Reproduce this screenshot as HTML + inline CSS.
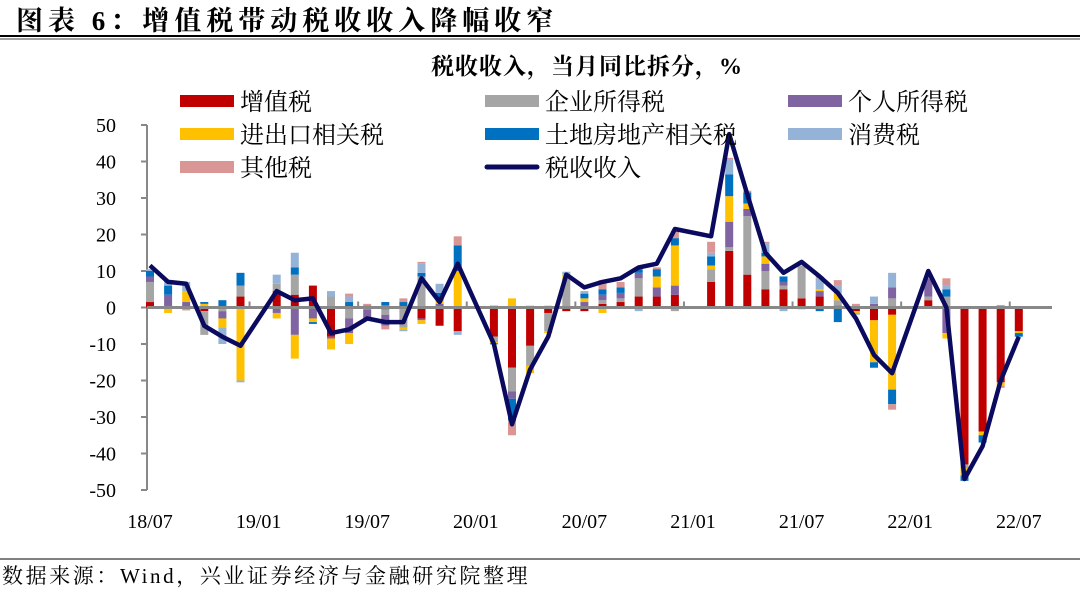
<!DOCTYPE html>
<html><head><meta charset="utf-8"><style>
body{margin:0;background:#fff;width:1080px;height:592px;overflow:hidden;font-family:"Liberation Serif","Noto Serif CJK SC",serif;}
svg text{font-family:"Liberation Serif","Noto Serif CJK SC",serif;}
</style></head><body>
<svg id="chart" width="1080" height="592">
<text x="16" y="30" font-size="27" font-weight="bold" letter-spacing="5" fill="#000">图表 6：增值税带动税收收入降幅收窄</text>
<line x1="0" y1="36" x2="1080" y2="36" stroke="#000" stroke-width="2"/>
<line x1="0" y1="39" x2="1080" y2="39" stroke="#000" stroke-width="0.8"/>
<text x="587" y="74" font-size="23" font-weight="bold" letter-spacing="1" text-anchor="middle">税收收入，当月同比拆分，%</text>
<line x1="0" y1="559" x2="1080" y2="559" stroke="#000" stroke-width="1"/>
<text x="2" y="583" font-size="21" letter-spacing="2.6">数据来源：Wind，兴业证券经济与金融研究院整理</text>
<g id="plot"></g>
<g id="legend"></g>
</svg>
<script>
const categories=["18/07","18/08","18/09","18/10","18/11","18/12","19/01","19/02","19/03","19/04","19/05","19/06","19/07","19/08","19/09","19/10","19/11","19/12","20/01","20/02","20/03","20/04","20/05","20/06","20/07","20/08","20/09","20/10","20/11","20/12","21/01","21/02","21/03","21/04","21/05","21/06","21/07","21/08","21/09","21/10","21/11","21/12","22/01","22/02","22/03","22/04","22/05","22/06","22/07"];
const seriesNames=["增值税","企业所得税","个人所得税","进出口相关税","土地房地产相关税","消费税","其他税","税收收入"];
const vat=[1.5,0.5,0,-1,0,3,null,4.5,3.5,6,-8,0,0.5,-0.5,0,-3,-5,-6.5,null,-8,-16.5,-10.5,-1.5,-1,-1,1,1.5,3,3,3.5,null,7,15.5,9,5,5,2.5,3,0.5,-1,-3.5,-2,null,2,0,-43,-34,-20.5,-6.5];
const cit=[5.5,0,0,-6.5,-1,3,null,2,5.5,0,3,-3,-0.5,-1.5,-5.5,8.5,0,0,null,-1.5,-6.5,-5.5,-5,8,0,1,1,5,0,-1,null,3.5,1,16,5,1,9,0,1.5,0,0,2.5,null,1,3,-1,0,0,0];
const pit=[1.5,3,1.5,0,-2,0,null,-1.5,-7.5,-3,-0.5,-4,-2.5,-3,0,-0.5,1,0,null,0.5,-2,0,0,0,1.5,1.5,1.5,1.5,2.5,2.5,null,0,7,2,2,1,0,1.5,0,0,1,3,null,5,-7,0,0,0.3,0];
const imp=[0,-1.5,3,1,-2.5,-20,null,-1.5,-6.5,-1,-3,-3,0,0.5,-0.5,-1,1,10,null,-0.3,2.5,-2,-0.5,1,1,-1.5,0,0,3,11,null,1,7,1.5,2,0,0,0.5,2,-0.5,-11.5,-20.5,null,0,-1.5,-2,-1,-1,-0.5];
const land=[1.5,2.5,0,0.5,2,3.5,null,0,2,-0.5,0,1.5,0,1,1.5,1,2,7,null,-0.3,-6,0,0,0,1.3,1.5,1.5,1,2,2,null,2.5,6,3,1,1.5,0,-1,-4,0,-1.5,-4,null,0,2,-1.5,-2,0,-1];
const cons=[0.5,1.5,2.5,0,-4.5,-0.5,null,2.5,4,0,1.5,1.5,0,0,-0.5,2.5,2.5,-1,null,0,0,0.5,0.5,0.8,0.7,0,0,-1,0,0,null,1,4,0,2.5,-1,-0.5,3,2,-0.5,2,4,null,0,1,0.3,0,0.4,0.3];
const other=[0,0,-0.8,0,0,0,null,0,0,0,0,0.8,0.5,-1,1,0.5,0,2.5,null,0,-4,0,0,0,0,2.5,1.5,0.5,0.5,2,null,3,0.5,0.5,0.5,0,0,0.5,1.5,1,0,-1.5,null,0.5,2,0,0,-0.5,0];
const total=[11.5,7,6.5,-5,-8,-10.5,null,4.5,2,2.5,-7,-6,-3,-4,-4,8,1.5,12,null,-10,-32,-17,-8,9,5.5,7,8,11,12,21.5,null,19.5,47.5,31,15,9.5,12.5,8.5,4,-3,-13,-18,null,10,0,-47,-38,-20,-8];
const yTicks=[50,40,30,20,10,0,-10,-20,-30,-40,-50];
const xLabels=["18/07","19/01","19/07","20/01","20/07","21/01","21/07","22/01","22/07"];

const colors=["#C00000","#A5A5A5","#8064A2","#FFC000","#0070C0","#95B3D7","#D99694"];
const stacks=[vat,cit,pit,imp,land,cons,other];
const NS="http://www.w3.org/2000/svg";
const X0=150,STEP=18.1,Y0=307.5,UNIT=3.65;
const xs=i=>X0+i*STEP;
const ys=v=>Y0-v*UNIT;
const plot=document.getElementById('plot');
function mk(tag,attrs,parent){const e=document.createElementNS(NS,tag);for(const k in attrs)e.setAttribute(k,attrs[k]);(parent||plot).appendChild(e);return e;}
const ax=mk('line',{x1:147,y1:ys(50),x2:147,y2:ys(-50),stroke:'#888','stroke-width':2});


yTicks.forEach(t=>{
  const tk=mk('line',{x1:141,x2:147,y1:ys(t),y2:ys(t),stroke:'#888','stroke-width':2});
  
  
  const tx=mk('text',{x:116,y:ys(t)+7,'font-size':20,'text-anchor':'end'});
  tx.textContent=t;
  
  
});
categories.forEach((c,i)=>{
  let pos=0,neg=0;
  stacks.forEach((s,k)=>{
    const v=s[i];if(v==null||v===0)return;
    let y1,y2;
    if(v>0){y1=pos;y2=pos+v;pos=y2;}else{y1=neg;y2=neg+v;neg=y2;}
    const r=mk('rect',{x:xs(i)-4,width:8,y:Math.min(ys(y1),ys(y2)),height:Math.abs(ys(y1)-ys(y2)),fill:colors[k]});
    
    
  });
});
const xa=mk('line',{x1:147,x2:1052,y1:Y0,y2:Y0,stroke:'#888','stroke-width':3});


xLabels.forEach((l,j)=>{
  const i=categories.indexOf(l);
  const tk=mk('line',{x1:xs(i+5.5),x2:xs(i+5.5),y1:Y0,y2:Y0-6,stroke:'#888','stroke-width':2});
  
  
  const tx=mk('text',{x:xs(i),y:528,'font-size':20,'text-anchor':'middle'});
  tx.textContent=l;
  
  
});
let d='';
total.forEach((v,i)=>{if(v==null)return;d+=(d?'L':'M')+xs(i).toFixed(1)+' '+ys(v).toFixed(1);});
const ln=mk('path',{d:d,fill:'none',stroke:'#0A0A5E','stroke-width':4.5,'stroke-linejoin':'round'});


const lg=document.getElementById('legend');
const lpos=[[180,101],[485,101],[788,101],[180,134],[485,134],[788,134],[180,167],[485,167]];
seriesNames.forEach((n,k)=>{
  const [x,y]=lpos[k];
  let sw;
  if(k<7) sw=mk('rect',{x:x,y:y-6,width:54,height:12,fill:colors[k]},lg);
  else sw=mk('line',{x1:x+2,x2:x+52,y1:y,y2:y,stroke:'#0A0A5E','stroke-width':5,'stroke-linecap':'round'},lg);
  
  
  const t=mk('text',{x:x+60,y:y+9,'font-size':24},lg);
  t.textContent=n;
  
  
});
</script>
</body></html>
